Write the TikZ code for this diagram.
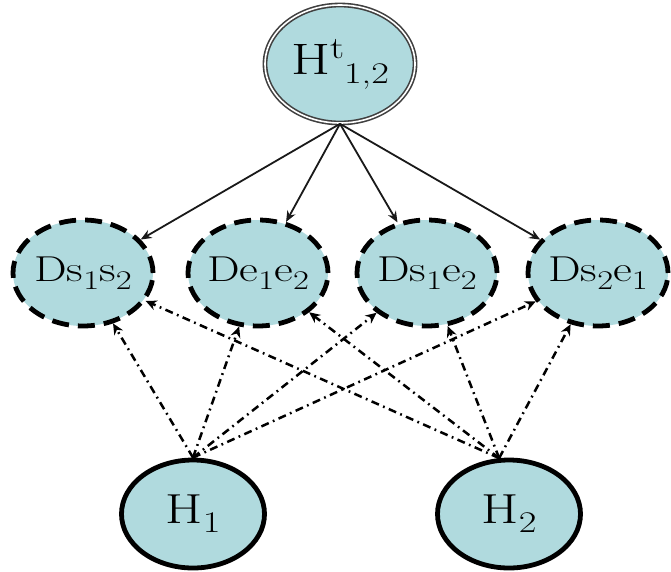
\documentclass[tikz,border=0pt]{standalone}
\usepackage{graphicx}
\usetikzlibrary{shapes.geometric,arrows.meta}
\definecolor{nodeblue}{RGB}{176,218,222}
% labels are set a little wider than normal
\newcommand{\widetext}[2]{\makebox[0pt][c]{\fontsize{#1}{#1}\selectfont\scalebox{1.28}[1]{#2}}}
% shifted small text: shift, size, text
\newcommand{\shifted}[3]{\raisebox{#1}{\fontsize{#2}{#2}\selectfont #3}}
\newcommand{\dsub}[1]{\shifted{-8pt}{27}{#1}}
\newcommand{\hsub}[1]{\shifted{-9pt}{30}{#1}}
\tikzset{
  basenode/.style={ellipse, fill=nodeblue, inner sep=0pt},
  topnode/.style={basenode, minimum width=150, minimum height=118,
    draw=black!75, double=white, double distance=1.6pt, line width=1.6pt},
  dnode/.style={basenode, minimum width=140, minimum height=106,
    draw=black, line width=4.8pt, dash pattern=on 17pt off 9pt},
  hnode/.style={basenode, minimum width=143, minimum height=108,
    draw=black, line width=4.8pt},
  solidarrow/.style={draw=black!90, line width=1.8pt,
    -{Stealth[length=11pt,width=9pt]}},
  dotarrow/.style={draw=black, line width=2.5pt,
    dash pattern=on 8pt off 4.5pt on 1.8pt off 4.5pt,
    -{Stealth[length=11pt,width=10pt]}}
}
\begin{document}
\begin{tikzpicture}[x=1pt,y=-1pt]
\useasboundingbox (0,0) rectangle (671,571);

\node[topnode] (T) at (340,64)
  {\widetext{44}{H\shifted{16pt}{31}{t}\hsub{1,2}}};

\node[dnode] (D1) at (83,273)  {\widetext{36}{Ds\dsub{1}s\dsub{2}}};
\node[dnode] (D2) at (258,273) {\widetext{36}{De\dsub{1}e\dsub{2}}};
\node[dnode] (D3) at (427,273) {\widetext{36}{Ds\dsub{1}e\dsub{2}}};
\node[dnode] (D4) at (598,273) {\widetext{36}{Ds\dsub{2}e\dsub{1}}};

\node[hnode] (H1) at (193,514) {\widetext{42}{H\hsub{1}}};
\node[hnode] (H2) at (509,514) {\widetext{42}{H\hsub{2}}};

% parent to the four D nodes
\foreach \d in {D1,D2,D3,D4}
  \draw[solidarrow] (T.south) -- (\d);

% both H nodes feed every D node
\foreach \d in {D1,D2,D3,D4}{
  \draw[dotarrow] (H1.north) -- (\d);
  \draw[dotarrow] (H2.100) -- (\d);
}
\end{tikzpicture}
\end{document}
